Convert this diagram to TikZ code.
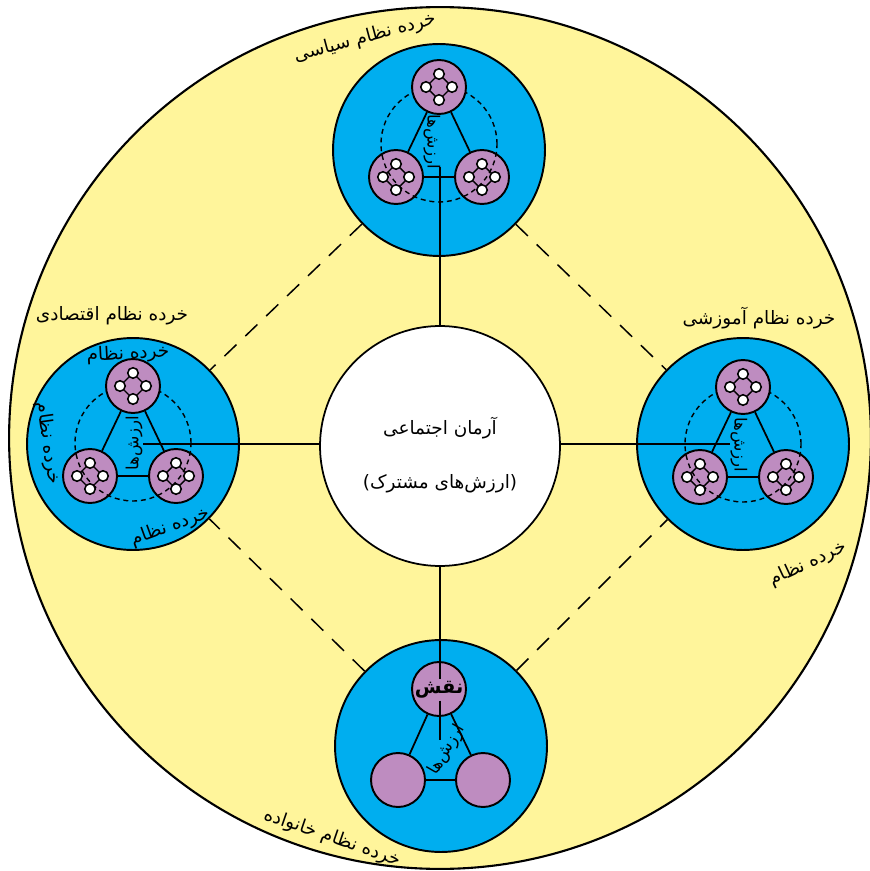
\documentclass[tikz,border=0pt]{standalone}
\usepackage{fontspec}
\newfontfamily\persianfont[Script=Arabic]{DejaVu Sans}
\TeXXeTstate=1
\definecolor{zard}{RGB}{255,245,155}
\definecolor{abi}{RGB}{0,174,239}
\definecolor{yasi}{RGB}{190,140,192}
\tikzset{
  subsys/.style={circle,draw,line width=1.1pt,fill=abi,minimum size=4.24cm,inner sep=0pt},
  rolecirc/.style={circle,draw,line width=1.1pt,fill=yasi,minimum size=1.08cm,inner sep=0pt},
  person/.style={circle,draw,line width=0.9pt,fill=white,minimum size=0.21cm,inner sep=0pt},
  valring/.style={circle,draw,line width=0.8pt,dash pattern=on 2.8pt off 2.2pt,minimum size=2.32cm,inner sep=0pt},
  link/.style={line width=1pt},
  bond/.style={line width=0.85pt,dash pattern=on 9.5pt off 7pt},
  lbl/.style={font=\persianfont\fontsize{10.5}{12}\selectfont,inner sep=1pt},
  vals/.style={font=\persianfont\fontsize{9.5}{11}\selectfont,inner sep=0pt},
}
% four people of one role, joined in a diamond
\newcommand{\rolemarks}[1]{%
  \foreach \dx/\dy/\k in {0/-13/a,13/0/b,0/13/c,-13/0/d}
    \node[person] (#1-\k) at ([shift={(\dx,\dy)}]#1.center) {};
  \draw[line width=0.8pt] (#1-a) -- (#1-b) -- (#1-c) -- (#1-d) -- (#1-a);
}
% a subsystem: blue disc, three roles, ring of values
\newcommand{\triad}[4]{%
  \node[subsys] (#1) at (#2,#3) {};
  \node[rolecirc] (#1-l) at (#2-43,#4+33) {};
  \node[rolecirc] (#1-r) at (#2+43,#4+33) {};
  \node[valring] (#1-ring) at (#2,#4) {};
  \node[rolecirc] (#1-t) at (#2,#4-57) {};
  \draw[link] (#1-t) -- (#1-l) -- (#1-r) -- (#1-t);
  \rolemarks{#1-t}\rolemarks{#1-l}\rolemarks{#1-r}
}
\begin{document}
\begin{tikzpicture}[x=0.02cm,y=-0.02cm]
  \useasboundingbox (0,0) rectangle (869,871);
  \node[circle,draw,line width=1.2pt,fill=zard,minimum size=17.24cm,inner sep=0pt] (society) at (440,438) {};

  \triad{pol}{439}{150}{144}
  \triad{eco}{133}{444}{443}
  \triad{edu}{743}{444}{444}

  % family: three plain roles
  \node[subsys] (fam) at (441,746) {};
  \node[rolecirc] (fam-l) at (398,780) {};
  \node[rolecirc] (fam-r) at (483,780) {};
  \node[rolecirc] (fam-t) at (439,689) {};
  \draw[link] (fam-t) -- (fam-l) -- (fam-r) -- (fam-t);
  \node[font=\persianfont\bfseries\fontsize{11}{13}\selectfont,inner sep=1pt] (fam-role) at (439,690) {\beginR نقش\endR};

  \node[circle,draw,line width=1pt,fill=white,minimum size=4.8cm,inner sep=0pt] (ideal) at (440,446) {};

  \draw[bond] (pol) -- (eco);
  \draw[bond] (pol) -- (edu);
  \draw[bond] (fam) -- (eco);
  \draw[bond] (fam) -- (edu);

  \coordinate (pol-end) at (440,167);
  \coordinate (eco-end) at (143,444);
  \coordinate (edu-end) at (730,444);
  \coordinate (fam-end) at (440,740);
  \draw[link] (ideal) -- (pol-end);
  \draw[link] (ideal.west |- eco-end) -- (eco-end);
  \draw[link] (ideal.east |- edu-end) -- (edu-end);
  \draw[link] (ideal) -- (fam-role.north -| fam-end);
  \draw[link] (fam-role.south -| fam-end) -- (fam-end);

  \node[lbl] (ideal-a) at (440,428) {\beginR آرمان اجتماعی\endR};
  \node[lbl] (ideal-b) at (440,484) {\beginR (ارزش‌های مشترک)\endR};

  \node[lbl,rotate=15] (pol-name) at (365,38) {\beginR خرده نظام سیاسی\endR};
  \node[lbl] (eco-name) at (112,316) {\beginR خرده نظام اقتصادی\endR};
  \node[lbl] (edu-name) at (759,318) {\beginR خرده نظام آموزشی\endR};
  \node[lbl,rotate=25] (edu-sub) at (808,564) {\beginR خرده نظام\endR};
  \node[lbl,rotate=-19] (fam-name) at (332,838) {\beginR خرده نظام خانواده\endR};
  \node[lbl,rotate=3] (eco-sub1) at (128,354) {\beginR خرده نظام\endR};
  \node[lbl,rotate=-82] (eco-sub2) at (48,443) {\beginR خرده نظام\endR};
  \node[lbl,rotate=20] (eco-sub3) at (170,527) {\beginR خرده نظام\endR};

  \node[vals,rotate=-90] (pol-vals) at (432,142) {\beginR ارزش‌ها\endR};
  \node[vals,rotate=90] (eco-vals) at (134,443) {\beginR ارزش‌ها\endR};
  \node[vals,rotate=-90] (edu-vals) at (739,445) {\beginR ارزش‌ها\endR};
  \node[vals,rotate=60] (fam-vals) at (447,750) {\beginR ارزش‌ها\endR};
\end{tikzpicture}
\end{document}
